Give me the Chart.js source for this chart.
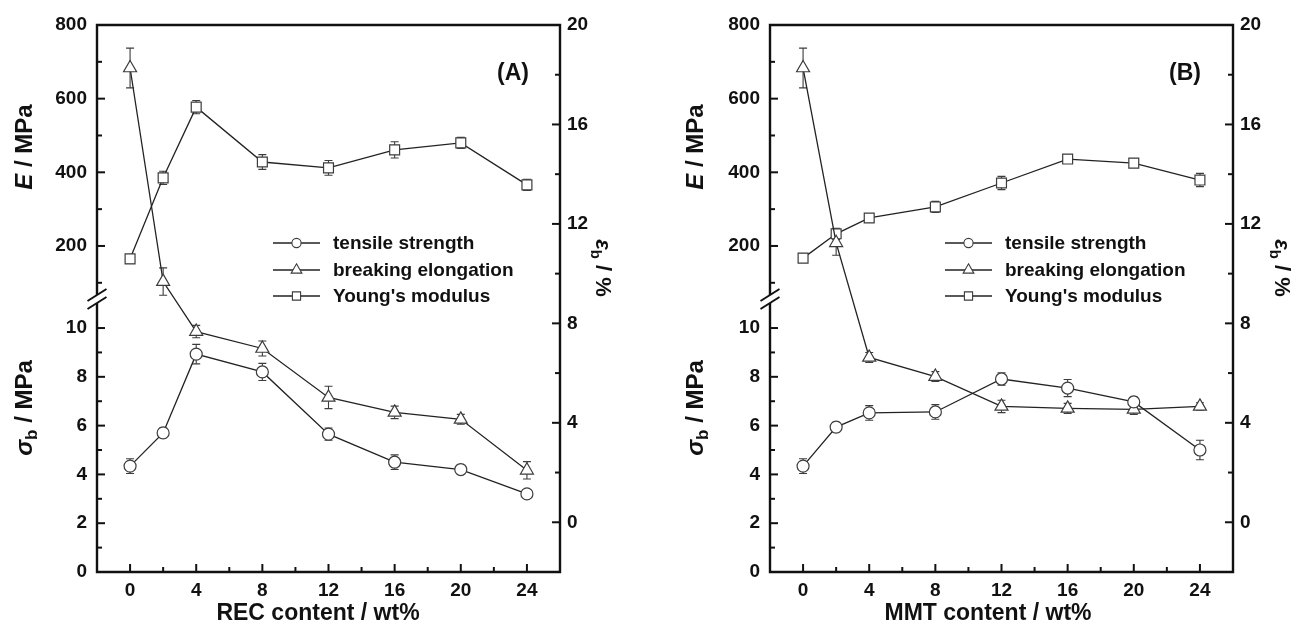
<!DOCTYPE html>
<html>
<head>
<meta charset="utf-8">
<script src="https://cdn.jsdelivr.net/npm/chart.js@4.4.1/dist/chart.umd.min.js"></script>
<style>
  html, body { margin: 0; padding: 0; background: #fff; }
  #wrap { position: relative; width: 1297px; height: 625px; }
  canvas { position: absolute; top: 0; }
  #panelA { left: 0; }
  #panelB { left: 648px; }
</style>
</head>
<body>
<div id="wrap">
  <canvas id="panelA" width="648" height="625"></canvas>
  <canvas id="panelB" width="649" height="625"></canvas>
</div>
<script>
// filler content (wt%), same for both panels
const contentWt = [0, 2, 4, 8, 12, 16, 20, 24];

// (A) REC
const recTensile = [4.34, 5.70, 8.93, 8.20, 5.65, 4.50, 4.20, 3.20];
const recTensileErr = [0.30, 0.20, 0.40, 0.35, 0.25, 0.30, 0.12, 0.12];
const recElongation = [18.27, 9.68, 7.67, 6.99, 5.02, 4.42, 4.14, 2.09];
const recElongationErr = [0.80, 0.55, 0.25, 0.30, 0.45, 0.25, 0.20, 0.35];
const recModulus = [165, 385, 577, 428, 412, 461, 480, 366];
const recModulusErr = [12, 18, 18, 20, 20, 22, 15, 15];

// (B) MMT
const mmtTensile = [4.34, 5.94, 6.52, 6.56, 7.91, 7.54, 6.97, 5.00];
const mmtTensileErr = [0.30, 0.20, 0.30, 0.30, 0.25, 0.35, 0.20, 0.40];
const mmtElongation = [18.27, 11.24, 6.63, 5.86, 4.66, 4.58, 4.54, 4.66];
const mmtElongationErr = [0.80, 0.50, 0.20, 0.20, 0.25, 0.20, 0.20, 0.15];
const mmtModulus = [167, 233, 276, 306, 371, 436, 425, 379];
const mmtModulusErr = [12, 15, 12, 15, 18, 12, 12, 18];

const seriesNames = ['tensile strength', 'breaking elongation', "Young's modulus"];

// ticks (all marks) and the ones that get a label
const xTicks = [-2, 0, 2, 4, 6, 8, 10, 12, 14, 16, 18, 20, 22, 24, 26];
const xTickLabels = [0, 4, 8, 12, 16, 20, 24];
const modulusTicks = [100, 200, 300, 400, 500, 600, 700, 800];
const modulusTickLabels = [200, 400, 600, 800];
const strengthTicks = [0, 1, 2, 3, 4, 5, 6, 7, 8, 9, 10];
const strengthTickLabels = [0, 2, 4, 6, 8, 10];
const elongationTicks = [-2, 0, 2, 4, 6, 8, 10, 12, 14, 16, 18, 20];
const elongationTickLabels = [0, 4, 8, 12, 16, 20];

const FONT = '"Liberation Sans", Arial, sans-serif';
const INK = '#111';
const LINE = '#222';
const MARK = '#3c3c3c';
const tickFont = { family: FONT, size: 19, weight: 'bold' };

Chart.defaults.font.family = FONT;

function marker(ctx, style, x, y, r) {
    ctx.beginPath();
    if (style === 'circle') {
        ctx.arc(x, y, r, 0, Math.PI * 2);
    } else if (style === 'triangle') {
        ctx.moveTo(x, y - r);
        ctx.lineTo(x + r * 0.866, y + r * 0.5);
        ctx.lineTo(x - r * 0.866, y + r * 0.5);
        ctx.closePath();
    } else {
        const s = r * Math.SQRT1_2;
        ctx.rect(x - s, y - s, 2 * s, 2 * s);
    }
    ctx.fill();
    ctx.stroke();
}

// text made of pieces (italic symbol, subscript...), centred on cx/cy
function richText(ctx, parts, cx, cy, angle, size) {
    ctx.save();
    ctx.translate(cx, cy);
    ctx.rotate(angle);
    let total = 0;
    parts.forEach(p => { ctx.font = p.font; p.w = ctx.measureText(p.text).width; total += p.w; });
    let x = -total / 2;
    ctx.fillStyle = INK;
    ctx.textAlign = 'left';
    ctx.textBaseline = 'alphabetic';
    parts.forEach(p => {
        ctx.font = p.font;
        ctx.fillText(p.text, x, size * 0.36 + (p.dy || 0));
        x += p.w;
    });
    ctx.restore();
}

function drawErrorBars(chart) {
    const ctx = chart.ctx;
    chart.data.datasets.forEach((ds, i) => {
        const meta = chart.getDatasetMeta(i);
        const ys = chart.scales[ds.yAxisID];
        ctx.save();
        ctx.strokeStyle = MARK;
        ctx.lineWidth = 1.1;
        meta.data.forEach((pt, j) => {
            const v = ds.data[j].y;
            const top = ys.getPixelForValue(v + ds.errors[j]);
            const bot = ys.getPixelForValue(v - ds.errors[j]);
            ctx.beginPath();
            ctx.moveTo(pt.x, top); ctx.lineTo(pt.x, bot);
            ctx.moveTo(pt.x - 4, top); ctx.lineTo(pt.x + 4, top);
            ctx.moveTo(pt.x - 4, bot); ctx.lineTo(pt.x + 4, bot);
            ctx.stroke();
        });
        ctx.restore();
    });
}

function tickMarks(ctx, scale, edge, dir, horizontal) {
    scale.ticks.forEach(t => {
        const p = scale.getPixelForValue(t.value);
        const len = t.label === '' ? 5 : 8;
        ctx.beginPath();
        if (horizontal) { ctx.moveTo(p, edge); ctx.lineTo(p, edge + dir * len); }
        else { ctx.moveTo(edge, p); ctx.lineTo(edge + dir * len, p); }
        ctx.stroke();
    });
}

function drawFrame(chart) {
    const { ctx, chartArea: a, scales } = chart;
    const yb = scales.yE.bottom; // where the axis is broken
    ctx.save();
    ctx.strokeStyle = INK;
    ctx.lineWidth = 2.4;
    ctx.beginPath();
    ctx.moveTo(a.left, yb - 4);
    ctx.lineTo(a.left, a.top);
    ctx.lineTo(a.right, a.top);
    ctx.lineTo(a.right, a.bottom);
    ctx.lineTo(a.left, a.bottom);
    ctx.lineTo(a.left, yb + 4);
    ctx.stroke();

    // break marks //
    ctx.lineWidth = 2;
    [-4, 4].forEach(d => {
        ctx.beginPath();
        ctx.moveTo(a.left - 9.5, yb + d + 6);
        ctx.lineTo(a.left + 9.5, yb + d - 6);
        ctx.stroke();
    });

    ctx.lineWidth = 2;
    tickMarks(ctx, scales.x, a.bottom, -1, true);
    tickMarks(ctx, scales.yE, a.left, 1, false);
    tickMarks(ctx, scales.yS, a.left, 1, false);
    tickMarks(ctx, scales.yEps, a.right, -1, false);
    ctx.restore();
}

function drawLegend(chart, o) {
    const ctx = chart.ctx;
    const sizes = { circle: 4.6, triangle: 6.2, rect: 5.8 };
    chart.data.datasets.forEach((ds, i) => {
        const y = o.legendRows[i];
        ctx.save();
        ctx.strokeStyle = LINE;
        ctx.lineWidth = 1.3;
        ctx.beginPath();
        ctx.moveTo(o.legendX, y);
        ctx.lineTo(o.legendX + 47, y);
        ctx.stroke();
        ctx.fillStyle = '#fff';
        ctx.strokeStyle = MARK;
        ctx.lineWidth = 1.1;
        marker(ctx, ds.pointStyle, o.legendX + 23.5, y, sizes[ds.pointStyle]);
        ctx.fillStyle = INK;
        ctx.font = 'bold 19px ' + FONT;
        ctx.textAlign = 'left';
        ctx.textBaseline = 'middle';
        ctx.fillText(ds.label, o.legendX + 60, y + 1);
        ctx.restore();
    });
}

function drawTitles(chart, o) {
    const ctx = chart.ctx;
    const b24 = 'bold 24px ' + FONT, bi24 = 'italic bold 24px ' + FONT;
    richText(ctx, [{ text: 'E', font: bi24 }, { text: ' / MPa', font: b24 }],
        o.leftTitleX, 147, -Math.PI / 2, 24);
    richText(ctx, [{ text: 'σ', font: bi24 }, { text: 'b', font: 'bold 17px ' + FONT, dy: 5 },
        { text: ' / MPa', font: b24 }], o.leftTitleX, 408, -Math.PI / 2, 24);
    richText(ctx, [{ text: 'ε', font: 'italic bold 22px ' + FONT }, { text: 'b', font: 'bold 15px ' + FONT, dy: 5 },
        { text: ' / %', font: 'bold 22px ' + FONT }], o.rightTitleX, 268, Math.PI / 2, 22);
    richText(ctx, [{ text: o.xTitle, font: 'bold 23px ' + FONT }], o.xTitleX, 612, 0, 23);
    richText(ctx, [{ text: o.tag, font: 'bold 23px ' + FONT }], o.tagX, 72, 0, 23);
}

const figurePlugin = {
    id: 'figure',
    beforeDatasetsDraw(chart) { drawErrorBars(chart); },
    afterDraw(chart, args, opts) {
        drawFrame(chart);
        drawLegend(chart, opts);
        drawTitles(chart, opts);
    }
};

function series(label, ys, errs, axis, style, radius) {
    return {
        label: label,
        data: contentWt.map((x, i) => ({ x: x, y: ys[i] })),
        errors: errs,
        yAxisID: axis,
        pointStyle: style,
        pointRadius: radius,
        pointHoverRadius: radius,
        pointBorderWidth: 1.2,
        pointBorderColor: MARK,
        pointBackgroundColor: '#fff',
        borderColor: LINE,
        borderWidth: 1.3,
        tension: 0,
        fill: false
    };
}

function labelWith(list) {
    return v => list.includes(v) ? String(v) : '';
}

function axis(extra) {
    return Object.assign({
        type: 'linear',
        grid: { display: false, drawTicks: false },
        border: { display: false },
    }, extra);
}

function makePanel(id, p) {
    return new Chart(document.getElementById(id), {
        type: 'line',
        data: {
            datasets: [
                series(seriesNames[0], p.tensile, p.tensileErr, 'yS', 'circle', 6),
                series(seriesNames[1], p.elongation, p.elongationErr, 'yEps', 'triangle', 7.5),
                series(seriesNames[2], p.modulus, p.modulusErr, 'yE', 'rect', 7)
            ]
        },
        options: {
            responsive: false,
            animation: false,
            events: [],
            layout: { autoPadding: false, padding: { top: 25, left: 0, right: 0, bottom: 0 } },
            plugins: {
                legend: { display: false },
                tooltip: { enabled: false },
                figure: p.deco
            },
            scales: {
                x: axis({
                    min: -2, max: 26,
                    afterBuildTicks: s => { s.ticks = xTicks.map(v => ({ value: v })); },
                    afterFit: s => { s.height = 53; },
                    ticks: { autoSkip: false, maxRotation: 0, padding: 7, font: tickFont, color: INK,
                        callback: labelWith(xTickLabels) }
                }),
                // left stack is laid out last-defined-on-top, so the lower part comes first
                yS: axis({
                    position: 'left', stack: 'left', stackWeight: 273,
                    min: 0, max: 11.19,
                    afterBuildTicks: s => { s.ticks = strengthTicks.map(v => ({ value: v })); },
                    afterFit: s => { s.width = p.left; },
                    ticks: { autoSkip: false, padding: 10, font: tickFont, color: INK,
                        callback: labelWith(strengthTickLabels) }
                }),
                yE: axis({
                    position: 'left', stack: 'left', stackWeight: 274,
                    min: 56, max: 800,
                    afterBuildTicks: s => { s.ticks = modulusTicks.map(v => ({ value: v })); },
                    afterFit: s => { s.width = p.left; },
                    ticks: { autoSkip: false, padding: 10, font: tickFont, color: INK,
                        callback: labelWith(modulusTickLabels) }
                }),
                yEps: axis({
                    position: 'right',
                    min: -2, max: 20,
                    afterBuildTicks: s => { s.ticks = elongationTicks.map(v => ({ value: v })); },
                    afterFit: s => { s.width = p.right; },
                    ticks: { autoSkip: false, padding: 7, font: tickFont, color: INK,
                        callback: labelWith(elongationTickLabels) }
                })
            }
        },
        plugins: [figurePlugin]
    });
}

makePanel('panelA', {
    tensile: recTensile, tensileErr: recTensileErr,
    elongation: recElongation, elongationErr: recElongationErr,
    modulus: recModulus, modulusErr: recModulusErr,
    left: 97, right: 88,
    deco: { legendX: 273, legendRows: [243, 270, 296], leftTitleX: 23, rightTitleX: 604,
        xTitle: 'REC content / wt%', xTitleX: 318, tag: '(A)', tagX: 513 }
});

makePanel('panelB', {
    tensile: mmtTensile, tensileErr: mmtTensileErr,
    elongation: mmtElongation, elongationErr: mmtElongationErr,
    modulus: mmtModulus, modulusErr: mmtModulusErr,
    left: 122, right: 64,
    deco: { legendX: 297, legendRows: [243, 270, 296], leftTitleX: 46, rightTitleX: 635,
        xTitle: 'MMT content / wt%', xTitleX: 340, tag: '(B)', tagX: 537 }
});
</script>
</body>
</html>
